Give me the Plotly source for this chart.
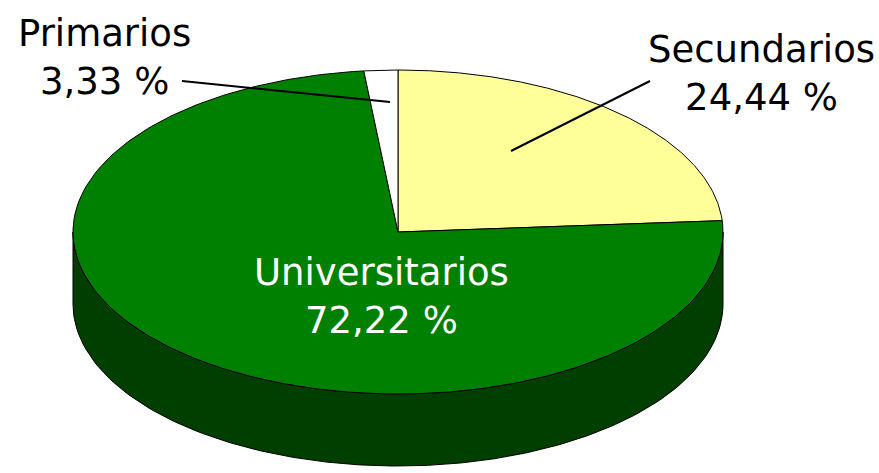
import numpy as np
import plotly.graph_objects as go

# ---- data ----
categories = ["Secundarios", "Universitarios", "Primarios"]
values = [24.44, 72.22, 3.33]
pct_labels = ["24,44 %", "72,22 %", "3,33 %"]

# ---- styles ----
top_colors = ["#FFFF99", "#008000", "#FFFFFF"]
side_colors = ["#BFBF73", "#003F00", "#BFBFBF"]
text_colors = ["black", "white", "black"]

W, H = 879, 473
CX, CY = 398, 232          # centre of the top face (pixels)
RX, RY = 325, 162          # radii of the top face
DEPTH = 72                 # thickness of the pie

# label layout: (x centre, y middle of text block, leader start, leader end)
label_layout = {
    "Secundarios": dict(x=761, y=73, line=(650, 81, 511, 151)),
    "Universitarios": dict(x=381, y=296, line=None),
    "Primarios": dict(x=104, y=57, line=(182, 81, 390, 102)),
}


def ell_pt(theta_deg):
    th = np.radians(theta_deg)
    s, c = np.sin(th), np.cos(th)
    r = 1.0 / np.sqrt((s / RX) ** 2 + (c / RY) ** 2)
    return CX + r * s, CY - r * c


total = sum(values)
starts, ends = [], []
acc = 0.0
for v in values:
    starts.append(acc / total * 360.0)
    acc += v
    ends.append(acc / total * 360.0)

fig = go.Figure()

# side faces (front half only: screen angles 90..270)
for cat, a, b, col in zip(categories, starts, ends, side_colors):
    a0, a1 = max(a, 90.0), min(b, 270.0)
    if a1 <= a0:
        continue
    ang = np.linspace(a0, a1, 200)
    xs, ys = ell_pt(ang)
    px = np.concatenate([xs, xs[::-1], xs[:1]])
    py = np.concatenate([ys, ys[::-1] + DEPTH, ys[:1]])
    fig.add_trace(go.Scatter(x=px, y=py, mode="lines", fill="toself",
                             fillcolor=col, line=dict(color="black", width=1),
                             hoverinfo="skip", showlegend=False))

# top faces
for cat, a, b, col in zip(categories, starts, ends, top_colors):
    ang = np.linspace(a, b, 300)
    xs, ys = ell_pt(ang)
    px = np.concatenate([[CX], xs, [CX]])
    py = np.concatenate([[CY], ys, [CY]])
    fig.add_trace(go.Scatter(x=px, y=py, mode="lines", fill="toself",
                             fillcolor=col, line=dict(color="black", width=1),
                             hoverinfo="skip", showlegend=False, name=cat))

# labels and leader lines
for cat, pct, tc in zip(categories, pct_labels, text_colors):
    lay = label_layout[cat]
    fig.add_annotation(x=lay["x"], y=lay["y"], xref="x", yref="y",
                       text=f"{cat}<br>{pct}", showarrow=False,
                       xanchor="center", yanchor="middle", align="center",
                       font=dict(family="DejaVu Sans", size=37, color=tc))
    if lay["line"]:
        x0, y0, x1, y1 = lay["line"]
        fig.add_shape(type="line", x0=x0, y0=y0, x1=x1, y1=y1, xref="x", yref="y",
                      line=dict(color="black", width=2))

fig.update_layout(
    width=W, height=H,
    margin=dict(l=0, r=0, t=0, b=0),
    paper_bgcolor="white", plot_bgcolor="white",
    xaxis=dict(range=[0, W], visible=False, fixedrange=True),
    yaxis=dict(range=[H, 0], visible=False, fixedrange=True),
    showlegend=False,
)

fig.write_html("out.html", config={"displayModeBar": False},
               post_script="document.body.style.margin='0';")
